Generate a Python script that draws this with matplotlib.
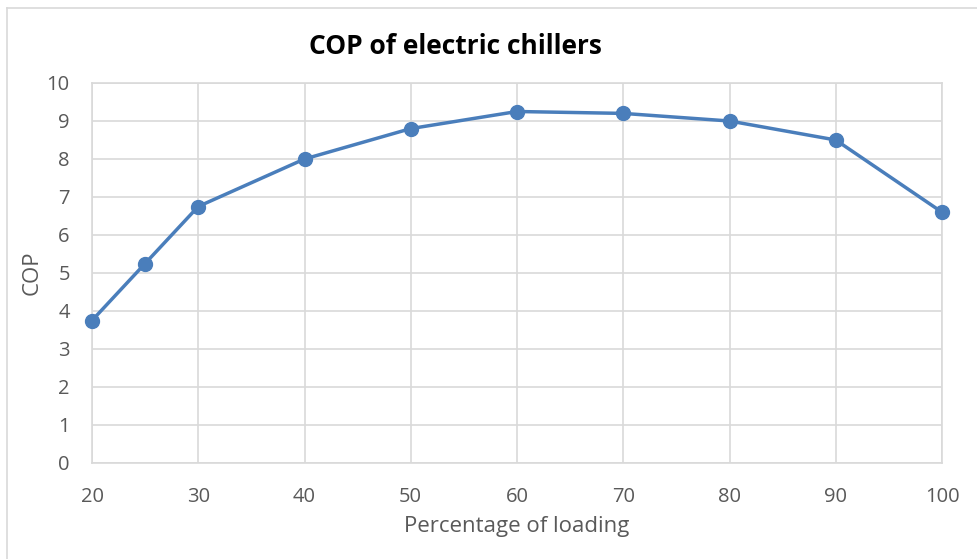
import matplotlib
matplotlib.use("Agg")
import matplotlib.pyplot as plt
from matplotlib.lines import Line2D

loading = [20, 25, 30, 40, 50, 60, 70, 80, 90, 100]
cop = [3.75, 5.25, 6.75, 8.0, 8.8, 9.25, 9.2, 9.0, 8.5, 6.6]
x_ticks = [20, 30, 40, 50, 60, 70, 80, 90, 100]
y_ticks = list(range(0, 11))

plt.rcParams['font.family'] = ['Open Sans', 'DejaVu Sans']

fig = plt.figure(figsize=(9.78, 5.59), dpi=100)
ax = fig.add_axes([92/978, 1-463/559, (942-92)/978, (463-83)/559])

color = '#4A7EBB'
ax.plot(loading, cop, color=color, lw=2.5, marker='o', ms=10, zorder=3, clip_on=False)

ax.set_xlim(20, 100)
ax.set_ylim(0, 10)
ax.set_xticks(x_ticks)
ax.set_yticks(y_ticks)
ax.grid(True, color='#D9D9D9', lw=1.2)
ax.set_axisbelow(True)
for s in ax.spines.values():
    s.set_color('#D9D9D9')
    s.set_linewidth(1.2)
ax.tick_params(axis='x', length=0, labelsize=14.5, colors='#595959', pad=17)
ax.tick_params(axis='y', length=0, labelsize=14.5, colors='#595959', pad=16)
ax.set_xlabel('Percentage of loading', fontsize=16, color='#595959', labelpad=7)
ax.set_ylabel('COP', fontsize=16, color='#595959', labelpad=3)

fig.text(455/978, 1-47/559, 'COP of electric chillers', ha='center', va='center',
         fontsize=19, fontweight='bold', color='black')

# outer border (top and left visible)
fig.add_artist(Line2D([7/978, 1], [1-8/559, 1-8/559], color='#D9D9D9', lw=1.2, transform=fig.transFigure))
fig.add_artist(Line2D([7/978, 7/978], [0, 1-8/559], color='#D9D9D9', lw=1.2, transform=fig.transFigure))

fig.savefig('out.png', dpi=100)
